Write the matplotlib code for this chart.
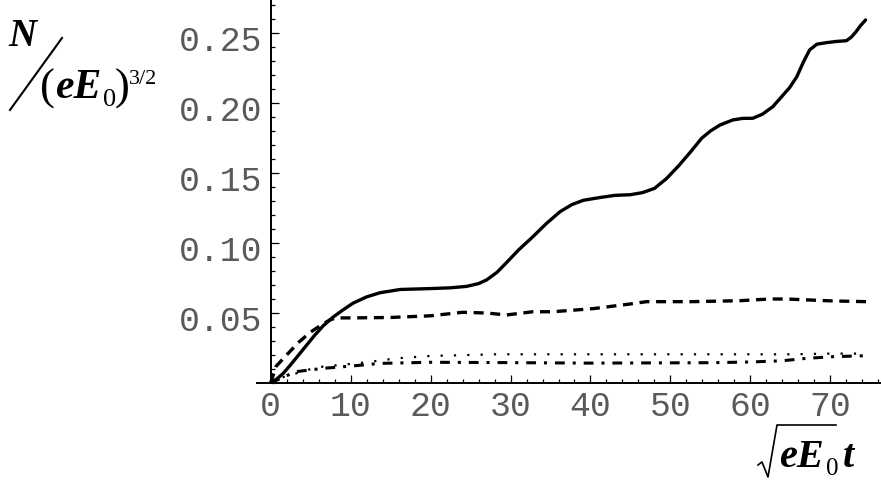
import numpy as np
import matplotlib
matplotlib.use("Agg")
import matplotlib.pyplot as plt
from matplotlib.lines import Line2D
from matplotlib.transforms import ScaledTranslation


# values
solid_x = [0, 0.8, 1.6, 2.5, 3.5, 4.5, 5.5, 6.6, 7.8, 9, 10.3, 12, 13.7, 16.2, 20.3,
           22.5, 24.5, 26, 27, 28.3, 29.5, 31, 32.8, 34.5, 36.2, 37.7, 39.1, 41.2,
           43, 45, 46.5, 48, 49.5, 51, 52.5, 53.9, 55, 56.2, 57.8, 59, 60.3, 61.5,
           62.8, 63.9, 64.9, 65.8, 66.6, 67.4, 68.3, 69.5, 70.8, 72.0, 72.6, 73.2,
           73.8, 74.4]
solid_y = [0, 0.003, 0.007, 0.013, 0.020, 0.027, 0.034, 0.041, 0.047, 0.052, 0.0570,
           0.0615, 0.0645, 0.0668, 0.0675, 0.0680, 0.0690, 0.071, 0.0736, 0.079,
           0.0860, 0.095, 0.1045, 0.114, 0.1224, 0.1275, 0.1305, 0.1325, 0.1340,
           0.1345, 0.1360, 0.139, 0.146, 0.155, 0.165, 0.1748, 0.180, 0.1843, 0.1879,
           0.189, 0.1891, 0.192, 0.1974, 0.2045, 0.211, 0.2188, 0.229, 0.2379, 0.242,
           0.2431, 0.244, 0.2445, 0.247, 0.2509, 0.2555, 0.2593]

dash_x = [0, 0.7, 2, 3.5, 4.9, 6.5, 7.4, 8.2, 10, 15, 20, 24, 27, 29.5, 32.8, 35.3,
          40.3, 44.9, 47, 52.8, 58.7, 62.4, 64.5, 70.3, 74.5]
dash_y = [0, 0.012, 0.020, 0.029, 0.036, 0.042, 0.045, 0.0465, 0.0465, 0.0468,
          0.048, 0.0505, 0.050, 0.0486, 0.0509, 0.0509, 0.0531, 0.0564, 0.0581,
          0.0581, 0.0588, 0.060, 0.060, 0.0586, 0.0581]

dot_x = [0, 1.2, 3.2, 5.75, 8.7, 11.6, 15.7, 19.9, 28.2, 40, 55, 65, 70, 74.5]
dot_y = [0, 0.0036, 0.0069, 0.0112, 0.0129, 0.0145, 0.0176, 0.0193, 0.0205,
         0.0205, 0.0205, 0.0205, 0.021, 0.021]

dd_x = [0, 1.5, 3.2, 6.6, 9.9, 13.7, 19.9, 28.2, 40, 55, 60, 64, 67, 70.3, 73.2, 74.5]
dd_y = [0, 0.004, 0.0081, 0.0105, 0.012, 0.014, 0.0148, 0.0146, 0.0142, 0.0145,
        0.015, 0.0159, 0.0176, 0.0188, 0.0193, 0.0195]

xticks = [0, 10, 20, 30, 40, 50, 60, 70]
yticks = [0.05, 0.10, 0.15, 0.20, 0.25]
ytick_labels = ["0.05", "0.10", "0.15", "0.20", "0.25"]


W, H = 881, 490
fig = plt.figure(figsize=(W / 100, H / 100), dpi=100)
ax = fig.add_axes([257 / W, (H - 383) / H, (880 - 257) / W, 383 / H])

ax.plot(solid_x, solid_y, color="black", lw=2.4, solid_capstyle="round")
ax.plot(dash_x, dash_y, color="black", lw=2.4, dashes=(3.0, 2.0))
ax.plot(dot_x, dot_y, color="black", lw=1.6, dashes=(1, 5))
ax.plot(dd_x, dd_y, color="black", lw=2.2, dashes=(3.2, 2.6, 1.0, 2.6))

ax.set_xlim(-1.7, 76.2)
ax.set_ylim(0, 383 / 1400)

for s in ["top", "right"]:
    ax.spines[s].set_visible(False)
ax.spines["left"].set_position(("data", 0))
ax.spines["left"].set_linewidth(1.4)
ax.spines["bottom"].set_linewidth(1.4)

ax.set_xticks(xticks)
ax.set_xticklabels([str(v) for v in xticks])
ax.set_yticks(yticks)
ax.set_yticklabels(ytick_labels)
ax.xaxis.set_minor_locator(matplotlib.ticker.MultipleLocator(2))
ax.yaxis.set_minor_locator(matplotlib.ticker.MultipleLocator(0.01))

ax.tick_params(which="both", direction="in", width=0.9, color="black")
ax.tick_params(which="major", length=5.5)
ax.tick_params(which="minor", length=3)
ax.tick_params(axis="x", pad=5)
ax.tick_params(axis="y", pad=6)
for lab in ax.get_xticklabels() + ax.get_yticklabels():
    lab.set_fontfamily("Liberation Mono")
    lab.set_fontsize(25)
    lab.set_color("#5a5a5a")
shift = ScaledTranslation(0, -0.05, fig.dpi_scale_trans)
for lab in ax.get_yticklabels():
    lab.set_transform(lab.get_transform() + shift)

serif = "Liberation Serif"

def px(x, y):
    return x / W, 1 - y / H

# y label: N / (eE0)^(3/2)
fig.text(*px(8, 46), "N", family=serif, style="italic", weight="bold", fontsize=28)
fig.add_artist(Line2D([10 / W, 62 / W], [1 - 110 / H, 1 - 38 / H], color="black", lw=1.5))
fig.text(*px(40, 100), "(", family=serif, fontsize=32)
fig.text(*px(55, 98), "eE", family=serif, style="italic", weight="bold", fontsize=30)
fig.text(*px(103, 106), "0", family=serif, fontsize=19)
fig.text(*px(115, 100), ")", family=serif, fontsize=32)
fig.text(*px(129, 84), "3/2", family=serif, fontsize=16)

# x label: sqrt(eE0) t
rx = [758, 762, 768, 777, 836]
ry = [465, 462, 477, 425, 425]
fig.add_artist(Line2D([v / W for v in rx], [1 - v / H for v in ry], color="black", lw=1.2))
fig.text(*px(779, 467), "eE", family=serif, style="italic", weight="bold", fontsize=29)
fig.text(*px(826, 475), "0", family=serif, fontsize=18)
fig.text(*px(843, 467), "t", family=serif, style="italic", weight="bold", fontsize=29)

plt.savefig("out.png", dpi=100)
